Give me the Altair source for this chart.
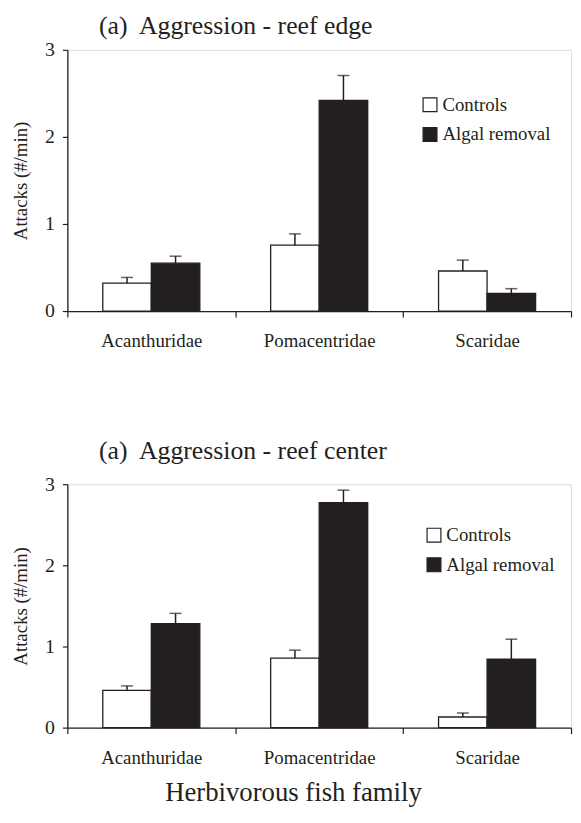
import altair as alt
import pandas as pd

categories = ["Acanthuridae", "Pomacentridae", "Scaridae"]
treatments = ["Controls", "Algal removal"]

edge_controls = [0.32, 0.756, 0.46]
edge_controls_se = [0.066, 0.13, 0.125]
edge_removal = [0.55, 2.42, 0.204]
edge_removal_se = [0.08, 0.285, 0.053]

center_controls = [0.458, 0.857, 0.131]
center_controls_se = [0.056, 0.098, 0.049]
center_removal = [1.282, 2.772, 0.845]
center_removal_se = [0.126, 0.155, 0.245]

FONT = "Liberation Serif"
INK = "#231f20"


def frame(ctrl, ctrl_se, rem, rem_se):
    rows = []
    for i, c in enumerate(categories):
        rows.append({"family": c, "treatment": treatments[0], "value": ctrl[i], "upper": ctrl[i] + ctrl_se[i]})
        rows.append({"family": c, "treatment": treatments[1], "value": rem[i], "upper": rem[i] + rem_se[i]})
    return pd.DataFrame(rows)


def panel(df, title, w, h, title_offset, legend_x, legend_y, show_xtitle):
    x_axis = alt.Axis(
        labelFont=FONT, labelFontSize=19, labelColor=INK, labelAngle=0,
        labelPadding=15, tickSize=6, tickColor=INK, tickWidth=1.2,
        domainColor=INK, domainWidth=1.3, tickBand="extent",
        title="Herbivorous fish family" if show_xtitle else None,
        titleFont=FONT, titleFontSize=27, titleFontWeight="normal", titleColor=INK,
        titleX=228, titleY=74, titleAlign="center", titleBaseline="alphabetic",
    )
    x = alt.X("family:N", sort=categories, axis=x_axis,
              scale=alt.Scale(paddingInner=0, paddingOuter=0))
    xo = alt.XOffset("treatment:N", sort=treatments,
                     scale=alt.Scale(domain=treatments, paddingInner=0, paddingOuter=0.73))
    y_axis = alt.Axis(
        values=[0, 1, 2, 3], format="d", grid=False,
        labelFont=FONT, labelFontSize=20, labelColor=INK, labelPadding=8,
        tickSize=5, tickColor=INK, tickWidth=1.2, domainColor=INK, domainWidth=1.3,
        title="Attacks (#/min)", titleFont=FONT, titleFontSize=19,
        titleFontWeight="normal", titleColor=INK, titlePadding=14,
    )
    y = alt.Y("value:Q", scale=alt.Scale(domain=[0, 3], nice=False), axis=y_axis)
    color = alt.Color(
        "treatment:N",
        scale=alt.Scale(domain=treatments, range=["#ffffff", INK]),
        legend=alt.Legend(
            title=None, orient="none", legendX=legend_x, legendY=legend_y,
            symbolType="square", symbolSize=196, symbolStrokeColor=INK,
            symbolStrokeWidth=1.2, symbolOpacity=1,
            labelFont=FONT, labelFontSize=19, labelColor=INK, labelOffset=3,
            rowPadding=10,
        ),
    )
    bars = alt.Chart(df).mark_bar(stroke=INK, strokeWidth=1.3).encode(
        x=x, xOffset=xo, y=y, color=color
    )
    err = alt.Chart(df).mark_rule(color=INK, strokeWidth=1.5).encode(
        x=x, xOffset=xo, y="value:Q", y2="upper:Q"
    )
    cap = alt.Chart(df).mark_tick(color=INK, thickness=1.5, size=12, orient="horizontal").encode(
        x=x, xOffset=xo, y="upper:Q"
    )
    return alt.layer(bars, err, cap).properties(
        width=w, height=h,
        title=alt.TitleParams(
            text=title, anchor="start", frame="group", dx=32,
            font=FONT, fontSize=26, fontWeight="normal", color=INK,
            offset=title_offset,
        ),
    )


p1 = panel(frame(edge_controls, edge_controls_se, edge_removal, edge_removal_se),
           "(a)\u00a0 Aggression - reef edge", 509, 264, 1, 357, 46, False)
p2 = panel(frame(center_controls, center_controls_se, center_removal, center_removal_se),
           "(a)\u00a0 Aggression - reef center", 509, 246, 10, 361, 42, True)

chart = alt.vconcat(p1, p2, spacing=87).resolve_scale(
    color="independent"
).resolve_legend(color="independent").properties(
    padding={"left": 3, "top": 0, "right": 0, "bottom": 0}
).configure_view(stroke=None).configure(background="white")

chart.save("out.html", embed_options={"renderer": "svg", "actions": False})
